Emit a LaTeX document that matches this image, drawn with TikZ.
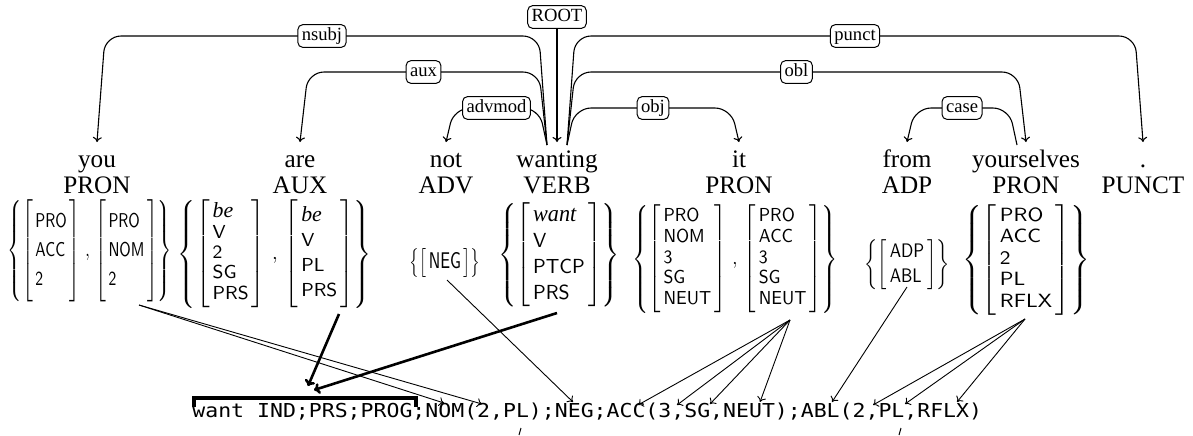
\documentclass[tikz,border=0pt]{standalone}
\usepackage{fontspec}
\setmainfont{Liberation Serif}
\newfontfamily\monofont[FakeStretch=1.12]{DejaVu Sans Mono}
\usepackage{graphicx}
\usetikzlibrary{arrows.meta,calc}

\delimiterfactor=1000
\delimitershortfall=0pt
\newcommand{\fmat}[3]{\left[\vcenter{\hbox{\rule{0pt}{#1}}}\vcenter{\hbox{\fontsize{9.4}{#2}\selectfont\sffamily\begin{tabular}{@{\,}l@{\,}}#3\end{tabular}}}\right]}
\newcommand{\itw}[1]{{\rmfamily\itshape\fontsize{10.8}{10}\selectfont #1}}
\newcommand{\looseDelims}{\delimiterfactor=901\relax\delimitershortfall=5pt\relax}

\tikzset{
  word/.style={anchor=base, inner sep=0pt, font=\fontsize{12.6}{13}\selectfont},
  lbl/.style={draw, fill=white, rounded corners=2.5pt, inner xsep=2pt, inner ysep=1.5pt,
    text height=6.4pt, text depth=2pt, font=\fontsize{9.3}{10}\selectfont, line width=0.5pt},
  arc/.style={draw, line width=0.55pt, rounded corners=8pt, -{To[length=2.5pt,width=4.5pt]}},
  grp/.style={inner sep=0pt, anchor=center},
  thin/.style={draw, line width=0.45pt, -{To[length=2.5pt,width=4.5pt]}},
  thick/.style={draw, line width=1.3pt, -{To[length=3pt,width=5.5pt]}},
  tick/.style={draw, line width=0.5pt},
}

\begin{document}
\begin{tikzpicture}[x=0.5pt,y=-0.5pt]
\useasboundingbox (0,0) rectangle (1193,435);

% words
\node[word] (w1) at (97,167) {you};
\node[word] (p1) at (97,193) {PRON};
\node[word] (w2) at (300,167) {are};
\node[word] (p2) at (300,193) {AUX};
\node[word] (w3) at (446,167) {not};
\node[word] (p3) at (446,193) {ADV};
\node[word] (w4) at (557,167) {wanting};
\node[word] (p4) at (557,193) {VERB};
\node[word] (w5) at (739,167) {it};
\node[word] (p5) at (739,193) {PRON};
\node[word] (w6) at (907,167) {from};
\node[word] (p6) at (907,193) {ADP};
\node[word] (w7) at (1026,167) {yourselves};
\node[word] (p7) at (1026,193) {PRON};
\node[word] (w8) at (1143,167) {.};
\node[word] (p8) at (1143,193) {PUNCT};

% anchor points
\foreach \i in {1,...,8} {\coordinate (d\i) at ($(w\i.base)+(0,-25)$);}
\coordinate (w4l) at ($(w4.base)+(-10,-22)$);
\coordinate (w4r) at ($(w4.base)+(10,-22)$);
\coordinate (w7l) at ($(w7.base)+(-9,-22)$);
\coordinate (lv1) at (0,36);
\coordinate (lv2) at (0,72);
\coordinate (lv3) at (0,108);

% dependency arcs
\node[lbl] (Lroot) at (557,17) {ROOT};
\draw[arc] (Lroot) -- (d4);
\draw[arc] (w4l) -- ($(w4l|-lv1)+(-8,0)$) -- node[lbl] (Lnsubj) {nsubj} ($(d1|-lv1)+(8,0)$) -- (d1);
\draw[arc] (w4l) -- ($(w4l|-lv2)+(-8,0)$) -- node[lbl] (Laux) {aux} ($(d2|-lv2)+(8,0)$) -- (d2);
\draw[arc] (w4l) -- ($(w4l|-lv3)+(-8,0)$) -- node[lbl] (Ladv) {advmod} ($(d3|-lv3)+(8,0)$) -- (d3);
\draw[arc] (w4r) -- ($(w4r|-lv3)+(8,0)$) -- node[lbl] (Lobj) {obj} ($(d5|-lv3)+(-8,0)$) -- (d5);
\draw[arc] (w4r) -- ($(w4r|-lv2)+(8,0)$) -- node[lbl] (Lobl) {obl} ($(d7|-lv2)+(-8,0)$) -- (d7);
\draw[arc] (w4r) -- ($(w4r|-lv1)+(8,0)$) -- node[lbl] (Lpunct) {punct} ($(d8|-lv1)+(-8,0)$) -- (d8);
\draw[arc] (w7l) -- ($(w7l|-lv3)+(-8,0)$) -- node[lbl] (Lcase) {case} ($(d6|-lv3)+(8,0)$) -- (d6);

% feature groups
\node[grp] (f1) at (90,251) {\resizebox*{82pt}{51pt}{$\left\{\fmat{44pt}{13.6pt}{PRO\\ACC\\2}\,,\,\fmat{44pt}{13.6pt}{PRO\\NOM\\2}\right\}$}};
\node[grp] (f2) at (275,254) {\resizebox*{97pt}{54pt}{$\left\{\fmat{48pt}{10.2pt}{\itw{be}\\V\\2\\SG\\PRS}\,,\,\fmat{48pt}{12.4pt}{\itw{be}\\V\\PL\\PRS}\right\}$}};
\node[grp] (f3) at (445,263) {\looseDelims\resizebox*{35.5pt}{14.5pt}{$\left\{\fmat{0pt}{11.5pt}{NEG}\right\}$}};
\node[grp] (f4) at (559,255) {\resizebox*{61pt}{52pt}{$\left\{\fmat{47pt}{12pt}{\itw{want}\\V\\PTCP\\PRS}\right\}$}};
\node[grp] (f5) at (735,259) {\resizebox*{103pt}{54pt}{$\left\{\fmat{49pt}{10.4pt}{PRO\\NOM\\3\\SG\\NEUT}\,,\,\fmat{49pt}{10.4pt}{PRO\\ACC\\3\\SG\\NEUT}\right\}$}};
\node[grp] (f6) at (907,265) {\looseDelims\resizebox*{42.5pt}{25pt}{$\left\{\fmat{0pt}{12pt}{ADP\\ABL}\right\}$}};
\node[grp] (f7) at (1026,260) {\resizebox*{64pt}{55pt}{$\left\{\fmat{50pt}{10.6pt}{PRO\\ACC\\2\\PL\\RFLX}\right\}$}};

% output string
\node[anchor=base west, inner sep=0pt, font={\monofont\fontsize{9.6}{12}\selectfont}] (str) at (192,417)
  {want IND;PRS;PROG;NOM(2,PL);NEG;ACC(3,SG,NEUT);ABL(2,PL,RFLX)};
\coordinate (bl) at (194,407);
\coordinate (br) at (416,407);
\draw[line width=2pt] (bl) -- ($(bl|-0,398)$) -- ($(br|-0,398)$) -- (br);

% sources
\coordinate (s1) at (139,305);
\coordinate (s2) at (339,314);
\coordinate (s3) at (557,313);
\coordinate (s4) at (447,280);
\coordinate (s5) at (790,320);
\coordinate (s6) at (907,287);
\coordinate (s7) at (1025,319);
% targets
\coordinate (t1a) at (444,403);
\coordinate (t1b) at (482,404);
\coordinate (t2) at (308,386);
\coordinate (t3) at (314,390);
\coordinate (t4) at (573,402);
\coordinate (t5a) at (638,405);
\coordinate (t5b) at (677,405);
\coordinate (t5c) at (710,404);
\coordinate (t5d) at (760,402);
\coordinate (t6) at (832,402);
\coordinate (t7a) at (873,405);
\coordinate (t7b) at (905,404);
\coordinate (t7c) at (957,402);

\draw[thin] (s1) -- (t1a);
\draw[thin] (s1) -- (t1b);
\draw[thick] (s2) -- (t2);
\draw[thick] (s3) -- (t3);
\draw[thin] (s4) -- (t4);
\draw[thin] (s5) -- (t5a);
\draw[thin] (s5) -- (t5b);
\draw[thin] (s5) -- (t5c);
\draw[thin] (s5) -- (t5d);
\draw[thin] (s6) -- (t6);
\draw[thin] (s7) -- (t7a);
\draw[thin] (s7) -- (t7b);
\draw[thin] (s7) -- (t7c);

% small marks below the string
\coordinate (m1a) at (519,435); \coordinate (m1b) at (521,428);
\coordinate (m2a) at (899,435); \coordinate (m2b) at (901,428);
\draw[tick] (m1a) -- (m1b);
\draw[tick] (m2a) -- (m2b);
\end{tikzpicture}
\end{document}
